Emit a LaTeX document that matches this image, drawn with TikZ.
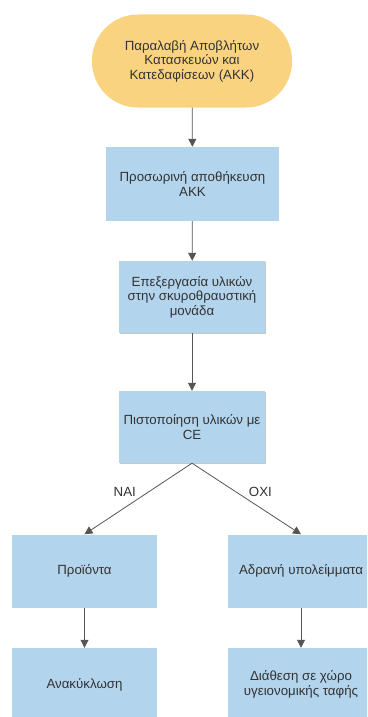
\documentclass[tikz,border=0pt]{standalone}
\usepackage{fontspec}
\setmainfont{Liberation Sans}
\usetikzlibrary{arrows.meta,shadows}

\definecolor{boxblue}{RGB}{178,212,237}
\definecolor{startorange}{RGB}{250,211,128}
\definecolor{linegray}{RGB}{85,85,85}
\definecolor{textgray}{RGB}{51,51,51}

\tikzset{stepbox/.style={rectangle,fill=boxblue,text=textgray,align=center,
           minimum width=146pt,minimum height=73pt,inner sep=2pt,
           font=\fontsize{13.3}{14.6}\selectfont},
         shadowbox/.style={stepbox,drop shadow={shadow xshift=1pt,shadow yshift=-1pt,opacity=0.45,fill=gray}},
         startbox/.style={stepbox,fill=startorange,rounded corners=46pt,
           minimum width=200pt,minimum height=93pt},
         flow/.style={draw=linegray,line width=0.8pt,-{Triangle[length=8pt,width=8pt]}},
         answer/.style={text=textgray,font=\fontsize{13.3}{14}\selectfont,inner sep=2pt}}

\begin{document}
\begin{tikzpicture}[x=1pt,y=-1pt]
                  \path[use as bounding box] (0,0) rectangle (367,717);
                  \clip (0,0) rectangle (367,717);
                  \node[startbox] (receive) at (192,61) {Παραλαβή Αποβλήτων\\Κατασκευών και\\Κατεδαφίσεων (ΑΚΚ)};
                  \node[stepbox,minimum width=173pt,minimum height=74pt] (store) at (192.5,184) {Προσωρινή αποθήκευση\\ΑΚΚ};
                  \node[shadowbox,minimum height=72pt] (crush) at (192,297) {Επεξεργασία υλικών\\στην σκυροθραυστική\\μονάδα};
                  \node[shadowbox,minimum height=72pt] (certify) at (192,427) {Πιστοποίηση υλικών με\\CE};
                  \node[stepbox,minimum width=145pt] (products) at (84.5,571) {Προϊόντα};
                  \node[stepbox] (inert) at (301,571) {Αδρανή υπολείμματα};
                  \node[stepbox,minimum width=145pt] (recycle) at (84.5,684.5) {Ανακύκλωση};
                  \node[stepbox] (landfill) at (301,684.5) {Διάθεση σε χώρο\\υγειονομικής ταφής};
                  \draw[flow] (receive) -- (store);
                  \draw[flow] (store) -- (crush);
                  \draw[flow] (crush) -- (certify);
                  \draw[flow] (certify.south) -- node[midway,above left,answer]{ΝΑΙ} (products.north);
                  \draw[flow] (certify.south) -- node[midway,above right,answer]{ΟΧΙ} (inert.north);
                  \draw[flow] (products) -- (recycle);
                  \draw[flow] (inert) -- (landfill);
              \end{tikzpicture}
\end{document}
